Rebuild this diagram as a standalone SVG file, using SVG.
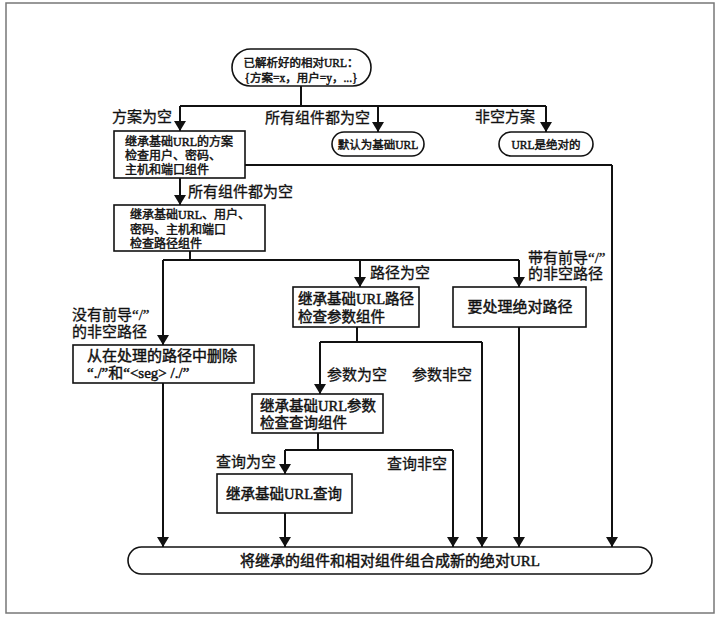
<svg xmlns="http://www.w3.org/2000/svg" width="718" height="620" viewBox="0 0 718 620">
<defs>
<marker id="ah" viewBox="0 0 10 12" refX="10" refY="6" markerWidth="10" markerHeight="12" markerUnits="userSpaceOnUse" orient="auto">
<path d="M0,0 L10,6 L0,12 Z" fill="#111"/>
</marker>
<style>
.frame{fill:none;stroke:#777;stroke-width:1.5}
.box{fill:#fff;stroke:#111;stroke-width:1.6}
.ln{fill:none;stroke:#111;stroke-width:2}
.arr{fill:none;stroke:#111;stroke-width:2;marker-end:url(#ah)}
text{font-family:"Liberation Serif","Noto Sans CJK SC",serif;fill:#111;stroke:#111;stroke-width:0.45;font-weight:normal}
.s{font-size:11.5px}
.m{font-size:12px}
.l{font-size:14.5px}
.xl{font-size:15px}
.lab{font-size:15px;stroke-width:0.3}
.c{text-anchor:middle}
</style>
</defs>
<rect class="frame" x="6" y="3" width="708" height="610"/>

<g id="connectors">
<path class="ln" d="M301,86 V106 M180,106 H546"/>
<path class="arr" d="M180,106 V131"/>
<path class="arr" d="M378,106 V132"/>
<path class="arr" d="M546,106 V132"/>
<path class="arr" d="M180,178 V205"/>
<path class="ln" d="M245,165 H612"/>
<path class="arr" d="M612,165 V547"/>
<path class="ln" d="M190,251 V260 M163,260 H519"/>
<path class="arr" d="M163,260 V345"/>
<path class="arr" d="M360,260 V287"/>
<path class="arr" d="M519,260 V287"/>
<path class="arr" d="M519,327 V547"/>
<path class="ln" d="M357,327 V342 M320,342 H482"/>
<path class="arr" d="M320,342 V394"/>
<path class="arr" d="M482,342 V547"/>
<path class="arr" d="M163,383 V547"/>
<path class="ln" d="M318,433 V450 M285,450 H453"/>
<path class="arr" d="M285,450 V474"/>
<path class="arr" d="M453,450 V547"/>
<path class="arr" d="M285,513 V547"/>
</g>

<g id="labels">
<text class="lab" x="112" y="122">方案为空</text>
<text class="lab" x="265" y="123">所有组件都为空</text>
<text class="lab" x="475" y="122">非空方案</text>
<text class="lab" x="188" y="197">所有组件都为空</text>
<text class="lab" x="370" y="278">路径为空</text>
<text class="lab" x="528" y="263">带有前导“/”</text>
<text class="lab" x="528" y="279">的非空路径</text>
<text class="lab" x="72" y="320">没有前导“/”</text>
<text class="lab" x="72" y="337">的非空路径</text>
<text class="lab" x="327" y="380">参数为空</text>
<text class="lab" x="412" y="380">参数非空</text>
<text class="lab" x="216" y="467">查询为空</text>
<text class="lab" x="387" y="469">查询非空</text>
</g>

<g id="start">
<rect class="box" x="232" y="49" width="139" height="37" rx="18.5"/>
<text class="s c" x="301" y="67">已解析好的相对URL：</text>
<text class="s c" x="301" y="82">{方案=x，用户=y，...}</text>
</g>

<g id="inherit-scheme">
<rect class="box" x="114" y="131" width="131" height="47"/>
<text class="m" x="125" y="146">继承基础URL的方案</text>
<text class="m" x="125" y="160">检查用户、密码、</text>
<text class="m" x="125" y="174">主机和端口组件</text>
</g>

<g id="default-base">
<rect class="box" x="332" y="132" width="92" height="24" rx="12"/>
<text class="s c" x="378" y="149">默认为基础URL</text>
</g>

<g id="absolute">
<rect class="box" x="499" y="132" width="94" height="24" rx="12"/>
<text class="s c" x="546" y="149">URL是绝对的</text>
</g>

<g id="inherit-user">
<rect class="box" x="114" y="205" width="151" height="46"/>
<text class="m" x="130" y="219">继承基础URL、用户、</text>
<text class="m" x="130" y="234">密码、主机和端口</text>
<text class="m" x="130" y="248">检查路径组件</text>
</g>

<g id="inherit-path">
<rect class="box" x="293" y="287" width="126" height="40"/>
<text class="l" x="298" y="304">继承基础URL路径</text>
<text class="l" x="298" y="322">检查参数组件</text>
</g>

<g id="abs-path">
<rect class="box" x="453" y="287" width="133" height="40"/>
<text class="xl c" x="520" y="312">要处理绝对路径</text>
</g>

<g id="remove-dots">
<rect class="box" x="73" y="345" width="181" height="38"/>
<text class="xl" x="87" y="361">从在处理的路径中删除</text>
<text class="xl" x="87" y="378">“./”和“&lt;seg&gt; /./”</text>
</g>

<g id="inherit-params">
<rect class="box" x="252" y="394" width="131" height="39"/>
<text class="l" x="260" y="411">继承基础URL参数</text>
<text class="l" x="260" y="428">检查查询组件</text>
</g>

<g id="inherit-query">
<rect class="box" x="217" y="474" width="135" height="39"/>
<text class="l c" x="284" y="499">继承基础URL查询</text>
</g>

<g id="combine">
<rect class="box" x="128" y="547" width="524" height="27" rx="13.5"/>
<text class="xl c" x="390" y="566">将继承的组件和相对组件组合成新的绝对URL</text>
</g>
</svg>
